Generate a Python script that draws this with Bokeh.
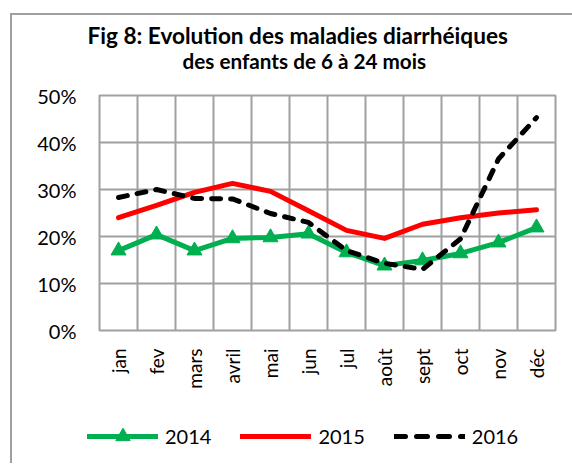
from bokeh.plotting import figure
from bokeh.models import (FixedTicker, NumeralTickFormatter, Legend, LegendItem,
                          Title, Range1d)
from bokeh.layouts import column, row
from bokeh.embed import file_html
from bokeh.resources import INLINE
import math

months = ["jan", "fev", "mars", "avril", "mai", "jun", "jul", "août", "sept", "oct", "nov", "déc"]
y2014 = [17.0, 20.4, 17.0, 19.6, 19.8, 20.6, 16.6, 13.8, 14.9, 16.4, 18.7, 21.9]
y2015 = [24.0, 26.6, 29.4, 31.3, 29.6, 25.5, 21.3, 19.6, 22.6, 24.0, 25.0, 25.7]
y2016 = [28.3, 30.0, 28.1, 28.0, 24.9, 23.0, 17.0, 14.3, 13.0, 19.5, 36.5, 45.3]
yticks = [0, 0.1, 0.2, 0.3, 0.4, 0.5]
series_names = ["2014", "2015", "2016"]
title1 = "Fig 8: Evolution des maladies diarrhéiques"
title2 = "des enfants de 6 à 24 mois"

xs = [i + 0.5 for i in range(len(months))]
f14 = [v / 100 for v in y2014]
f15 = [v / 100 for v in y2015]
f16 = [v / 100 for v in y2016]

FONT = "Lato"
GRID = "#a0a0a0"
GREEN, RED, BLACK = "#00B050", "#FF0000", "black"

p = figure(frame_width=456, frame_height=235, output_backend="svg", toolbar_location=None,
           x_range=Range1d(0, 12), y_range=Range1d(0, 0.5),
           min_border_left=87, min_border_right=16, min_border_top=80, min_border_bottom=80)
p.background_fill_color = "white"
p.border_fill_color = "white"
p.outline_line_color = GRID
p.outline_line_width = 2

p.xaxis.ticker = FixedTicker(ticks=xs)
p.xaxis.major_label_overrides = {x: m for x, m in zip(xs, months)}
p.xaxis.major_label_orientation = math.pi / 2
p.xgrid.ticker = FixedTicker(ticks=list(range(13)))
p.yaxis.ticker = FixedTicker(ticks=yticks)
p.yaxis.formatter = NumeralTickFormatter(format="0%")

for ax in (p.xaxis, p.yaxis):
    ax.axis_line_color = None
    ax.major_tick_line_color = None
    ax.minor_tick_line_color = None
    ax.major_tick_out = 0
    ax.major_tick_in = 0
    ax.major_label_text_font = FONT
    ax.major_label_text_color = "black"
p.yaxis.major_label_text_font_size = "20px"
p.xaxis.major_label_text_font_size = "19px"
p.yaxis.major_label_standoff = 23
p.xaxis.major_label_standoff = 18

for g in (p.xgrid, p.ygrid):
    g.grid_line_color = GRID
    g.grid_line_width = 2

p.line(xs, f14, line_color=GREEN, line_width=5, line_join="round")
p.scatter(xs, f14, marker="triangle", size=15, fill_color=GREEN, line_color=GREEN)
p.line(xs, f15, line_color=RED, line_width=5, line_join="round", line_cap="round")
p.line(xs, f16, line_color=BLACK, line_width=5, line_dash="9 10", line_cap="round",
       line_join="round")

p.title.text = title1
p.title.align = "left"
p.title.offset = -12
p.title.standoff = -50
p.title.text_font = FONT
p.title.text_font_style = "bold"
p.title.text_font_size = "22.6px"
p.title.text_color = "black"
p.add_layout(Title(text=title2, align="left", offset=83, standoff=46, text_font=FONT,
                   text_font_style="bold", text_font_size="20.7px", text_color="black"),
             "above")

# legend strip below the chart: same series, y range chosen so no data shows in it
q = figure(width=560, height=53, output_backend="svg", toolbar_location=None,
           x_range=Range1d(0, 12), y_range=Range1d(2, 3),
           x_axis_type=None, y_axis_type=None,
           min_border_left=0, min_border_right=0, min_border_top=0, min_border_bottom=0)
q.outline_line_color = None
q.grid.visible = False
q.background_fill_color = "white"
q.border_fill_color = "white"
k14 = q.line(xs, f14, line_color=GREEN, line_width=5, line_cap="round")
k14m = q.scatter(xs, f14, marker="triangle", size=15, fill_color=GREEN, line_color=GREEN)
k15 = q.line(xs, f15, line_color=RED, line_width=5, line_cap="round")
k16 = q.line(xs, f16, line_color=BLACK, line_width=5, line_dash="11 11", line_cap="round")

legend = Legend(items=[LegendItem(label=series_names[0], renderers=[k14, k14m]),
                       LegendItem(label=series_names[1], renderers=[k15]),
                       LegendItem(label=series_names[2], renderers=[k16])],
                orientation="horizontal", location=(75, 9),
                padding=0, margin=0, spacing=29, label_standoff=7,
                glyph_width=71, glyph_height=36,
                border_line_color=None, background_fill_alpha=0,
                label_text_font=FONT, label_text_font_size="20px",
                label_text_color="black")
q.add_layout(legend, "center")

lay = column(p, row(q), spacing=0)
lay.margin = (13, 0, 0, 10)
lay.styles = {"border-left": "2px solid #a0a0a0", "border-top": "2px solid #a0a0a0"}

open("out.html", "w").write(file_html(lay, INLINE))
